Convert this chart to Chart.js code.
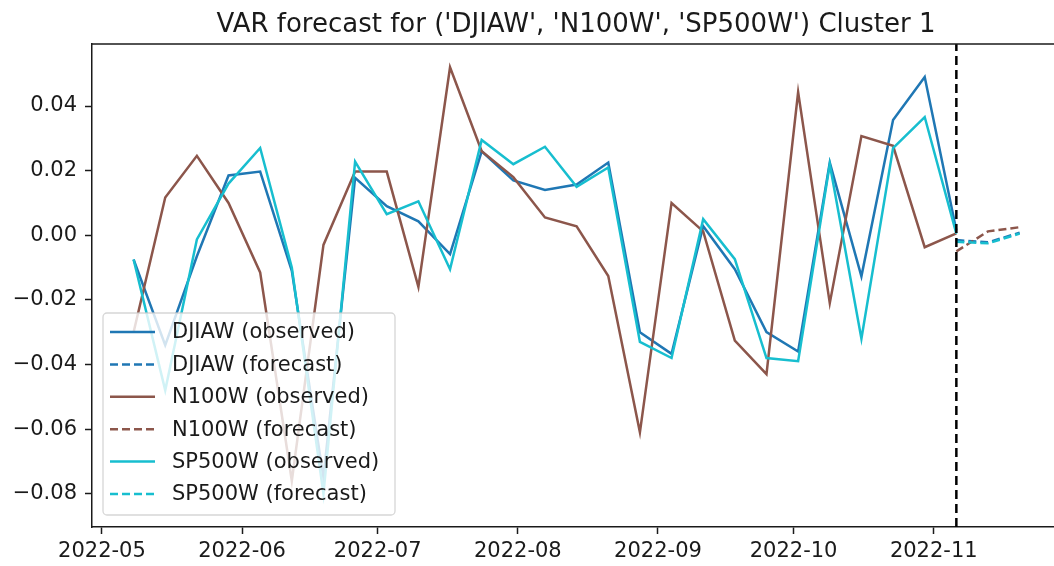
<!DOCTYPE html>
<html>
<head>
<meta charset="utf-8">
<script src="https://cdn.jsdelivr.net/npm/chart.js"></script>
<style>
  html, body { margin: 0; padding: 0; background: #fff; }
  #wrap { width: 1054px; height: 566px; }
</style>
</head>
<body>
<div id="wrap"><canvas id="varChart" width="1054" height="566"></canvas></div>
<script>
// weekly observations (Sundays) and the forecast horizon
const obsDates = ['2022-05-08', '2022-05-15', '2022-05-22', '2022-05-29', '2022-06-05', '2022-06-12', '2022-06-19',
    '2022-06-26', '2022-07-03', '2022-07-10', '2022-07-17', '2022-07-24', '2022-07-31', '2022-08-07', '2022-08-14',
    '2022-08-21', '2022-08-28', '2022-09-04', '2022-09-11', '2022-09-18', '2022-09-25', '2022-10-02', '2022-10-09',
    '2022-10-16', '2022-10-23', '2022-10-30', '2022-11-06'];
const fcDates = ['2022-11-06', '2022-11-13', '2022-11-20'];

const djiawObs = [-0.0075, -0.034, -0.0065, 0.0185, 0.0197, -0.011, -0.075, 0.0178, 0.009, 0.0043, -0.0058, 0.026,
    0.017, 0.014, 0.0157, 0.0225, -0.030, -0.0367, 0.0028, -0.0105, -0.030, -0.036, 0.0225, -0.0127, 0.0357, 0.049, 0.0015];
const n100wObs = [-0.030, 0.0117, 0.0246, 0.010, -0.0115, -0.076, -0.003, 0.0197, 0.0197, -0.016, 0.052, 0.026,
    0.018, 0.0055, 0.0028, -0.0126, -0.061, 0.010, 0.0012, -0.0326, -0.043, 0.0443, -0.021, 0.0307, 0.0277, -0.0037, 0.0006];
const sp500wObs = [-0.0075, -0.048, -0.0013, 0.016, 0.027, -0.010, -0.080, 0.0228, 0.0065, 0.0105, -0.0105, 0.0295,
    0.022, 0.0274, 0.015, 0.021, -0.033, -0.038, 0.005, -0.0074, -0.038, -0.039, 0.022, -0.032, 0.027, 0.0366, 0.0005];

const djiawFc = [-0.0015, -0.0022, 0.0008];
const n100wFc = [-0.005, 0.0012, 0.0025];
const sp500wFc = [-0.002, -0.0025, 0.0005];

const forecastStart = '2022-11-06';

const monthTicks = ['2022-05-01', '2022-06-01', '2022-07-01', '2022-08-01', '2022-09-01', '2022-10-01', '2022-11-01'];
const monthLabels = ['2022-05', '2022-06', '2022-07', '2022-08', '2022-09', '2022-10', '2022-11'];
const yTicks = [-0.08, -0.06, -0.04, -0.02, 0, 0.02, 0.04];
const yTickLabels = ['\u22120.08', '\u22120.06', '\u22120.04', '\u22120.02', '0.00', '0.02', '0.04'];

const DAY = 86400000;
const toMs = s => Date.parse(s + 'T00:00:00Z');
const pts = (dates, vals) => vals.map((v, i) => ({ x: toMs(dates[i]), y: v }));

const xMin = toMs('2022-05-01') - 2.2 * DAY;
const xMax = toMs('2022-05-01') + 210.6 * DAY;
const yMin = -0.0903;
const yMax = 0.0592;

const FONT = 'DejaVu Sans';
const TEXT = '#1a1a1a';
const colors = { DJIAW: '#1f77b4', N100W: '#8c564b', SP500W: '#17becf' };

function series(label, color, data, dashed, order) {
    return {
        label: label,
        data: data,
        borderColor: color,
        backgroundColor: color,
        borderWidth: 2.5,
        borderDash: dashed ? [8, 4] : [],
        pointRadius: 0,
        tension: 0,
        fill: false,
        order: order
    };
}

const datasets = [
    series('DJIAW (observed)', colors.DJIAW, pts(obsDates, djiawObs), false, 6),
    series('DJIAW (forecast)', colors.DJIAW, pts(fcDates, djiawFc), true, 5),
    series('N100W (observed)', colors.N100W, pts(obsDates, n100wObs), false, 4),
    series('N100W (forecast)', colors.N100W, pts(fcDates, n100wFc), true, 3),
    series('SP500W (observed)', colors.SP500W, pts(obsDates, sp500wObs), false, 2),
    series('SP500W (forecast)', colors.SP500W, pts(fcDates, sp500wFc), true, 1),
    {
        label: '_split',
        data: [{ x: toMs(forecastStart), y: yMin }, { x: toMs(forecastStart), y: yMax }],
        borderColor: '#000',
        borderWidth: 2.5,
        borderDash: [9, 5],
        pointRadius: 0,
        fill: false,
        order: 0
    }
];

// title, top spine and the in-axes legend (matplotlib style)
const framePlugin = {
    id: 'frame',
    afterDatasetsDraw(chart) {
        const { ctx, chartArea: a } = chart;
        ctx.save();
        ctx.strokeStyle = TEXT;
        ctx.lineWidth = 1.5;
        ctx.beginPath();
        ctx.moveTo(a.left, a.top);
        ctx.lineTo(a.right, a.top);
        ctx.stroke();

        ctx.fillStyle = TEXT;
        ctx.font = '26px "' + FONT + '"';
        ctx.textAlign = 'center';
        ctx.textBaseline = 'alphabetic';
        ctx.fillText("VAR forecast for ('DJIAW', 'N100W', 'SP500W') Cluster 1", (a.left + a.right) / 2 + 3, 32);

        // legend box
        const bx = a.left + 11, bw = 292, bh = 202, by = a.bottom - 12 - bh;
        ctx.beginPath();
        if (ctx.roundRect) ctx.roundRect(bx, by, bw, bh, 4); else ctx.rect(bx, by, bw, bh);
        ctx.fillStyle = 'rgba(255,255,255,0.8)';
        ctx.fill();
        ctx.strokeStyle = 'rgba(204,204,204,0.8)';
        ctx.lineWidth = 1.3;
        ctx.stroke();

        const items = chart.data.datasets.filter(d => !d.label.startsWith('_'));
        ctx.font = '21px "' + FONT + '"';
        ctx.textAlign = 'left';
        ctx.textBaseline = 'middle';
        items.forEach((d, i) => {
            const ry = by + 19 + i * 32.4;
            ctx.beginPath();
            ctx.strokeStyle = d.borderColor;
            ctx.lineWidth = d.borderWidth;
            ctx.setLineDash(d.borderDash || []);
            ctx.moveTo(bx + 7, ry);
            ctx.lineTo(bx + 52, ry);
            ctx.stroke();
            ctx.setLineDash([]);
            ctx.fillStyle = TEXT;
            ctx.fillText(d.label, bx + 69, ry + 1);
        });
        ctx.restore();
    }
};

const chart = new Chart(document.getElementById('varChart').getContext('2d'), {
    type: 'line',
    data: { datasets: datasets },
    plugins: [framePlugin],
    options: {
        responsive: false,
        animation: false,
        devicePixelRatio: 1,
        layout: { padding: { top: 44, right: 0, left: 0, bottom: 0 } },
        plugins: {
            legend: { display: false },
            title: { display: false },
            tooltip: { enabled: false }
        },
        scales: {
            x: {
                type: 'linear',
                min: xMin,
                max: xMax,
                afterBuildTicks: scale => { scale.ticks = monthTicks.map(m => ({ value: toMs(m) })); },
                afterFit: scale => { scale.height = 39; },
                ticks: {
                    autoSkip: false,
                    maxRotation: 0,
                    padding: 5,
                    color: TEXT,
                    font: { family: FONT, size: 21 },
                    callback: (v, i) => monthLabels[i]
                },
                grid: { drawOnChartArea: false, tickLength: 7, tickColor: TEXT, tickWidth: 1.5 },
                border: { display: true, color: TEXT, width: 1.5 }
            },
            y: {
                min: yMin,
                max: yMax,
                afterBuildTicks: scale => { scale.ticks = yTicks.map(v => ({ value: v })); },
                afterFit: scale => { scale.width = 92; },
                ticks: {
                    padding: 8,
                    color: TEXT,
                    font: { family: FONT, size: 21 },
                    callback: (v, i) => yTickLabels[i]
                },
                grid: { drawOnChartArea: false, tickLength: 7, tickColor: TEXT, tickWidth: 1.5 },
                border: { display: true, color: TEXT, width: 1.5 }
            }
        }
    }
});
</script>
</body>
</html>
